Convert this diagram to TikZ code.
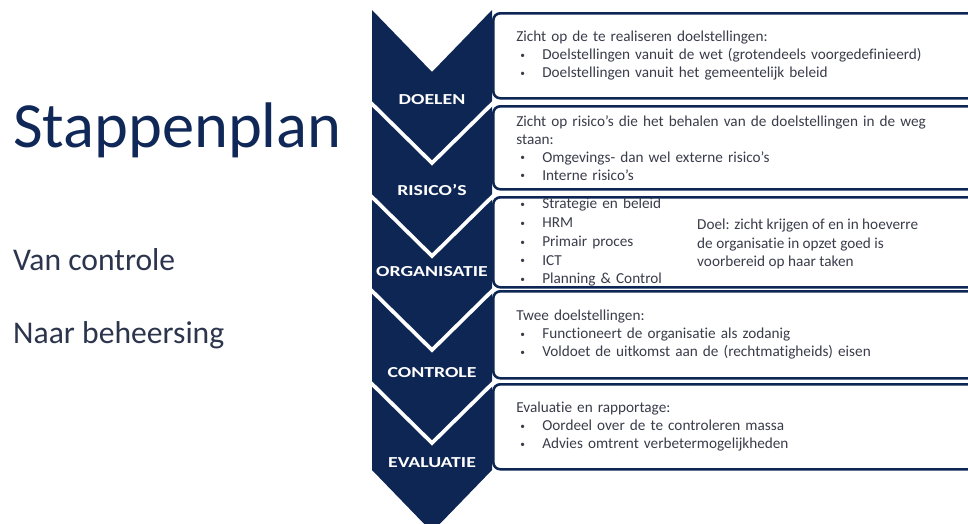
\documentclass[tikz,border=0pt]{standalone}
\usepackage{fontspec}
\setmainfont{Carlito}[Ligatures=CommonOff]
\newfontfamily\labelfont[FakeStretch=1.3]{Carlito}
\usepackage{xcolor}
\definecolor{plannavy}{RGB}{13,38,84}
\definecolor{plantitle}{RGB}{16,40,88}
\definecolor{plantext}{RGB}{58,60,74}
\usetikzlibrary{positioning}
\newlength{\pxu}\setlength{\pxu}{0.03cm}
\newcommand{\bul}[1]{\hspace*{4\pxu}\makebox[22\pxu][l]{\raisebox{1pt}{\fontsize{8}{8}\selectfont\textbullet}}#1}

\begin{document}
\begin{tikzpicture}[x=0.03cm, y=-0.03cm,
  stepbox/.style={draw=plannavy, line width=2.2pt, fill=white, rounded corners=6pt,
    anchor=north west, minimum width=500\pxu, text width=454\pxu, inner xsep=23\pxu,
    inner ysep=0pt, align=left, text=plantext, font=\fontsize{13}{15.4}\selectfont},
  steplabel/.style={text=white, font=\labelfont\bfseries\fontsize{13}{14}\selectfont, inner sep=0pt},
  sepline/.style={draw=white, line width=3.2pt},
  sidetext/.style={anchor=base west, inner sep=0pt, text=plantitle}]

\clip (0,0) rectangle (968,523);

% title and subtitles
\node[sidetext, font=\fontsize{55}{55}\selectfont] (title) at (13,147) {Stappenplan};
\node[sidetext, text=plantext!70!plannavy, font=\fontsize{27}{27}\selectfont] (van) at (13,270) {Van controle};
\node[sidetext, text=plantext!70!plannavy, font=\fontsize{27}{27}\selectfont] (naar) at (13,343) {Naar beheersing};

% chevron column
\fill[plannavy] (372,10) -- (432,72) -- (492,10) -- (492,470) -- (432,532) -- (372,470) -- cycle;
\foreach \y in {100,193,287,380}
  \draw[sepline] (368,\y) -- (432,\y+63) -- (496,\y);

\foreach \lbl/\y [count=\i] in {DOELEN/100, RISICO’S/190, ORGANISATIE/272, CONTROLE/373, EVALUATIE/463}
  \node[steplabel] (s\i) at (432,\y) {\lbl};

% text boxes
\node[stepbox, minimum height=85\pxu] (doelen) at (492,12) {%
  Zicht op de te realiseren doelstellingen:\\
  \bul{Doelstellingen vanuit de wet (grotendeels voorgedefinieerd)}\\
  \bul{Doelstellingen vanuit het gemeentelijk beleid}};

\node[stepbox, minimum height=83\pxu] (risicos) at (492,105) {%
  Zicht op risico’s die het behalen van de doelstellingen in de weg\\
  staan:\\
  \bul{Omgevings- dan wel externe risico’s}\\
  \bul{Interne risico’s}};

\node[stepbox, minimum height=90\pxu, font=\fontsize{13}{16}\selectfont] (organisatie) at (492,196) {%
  \bul{Strategie en beleid}\\
  \bul{HRM}\\
  \bul{Primair proces}\\
  \bul{ICT}\\
  \bul{Planning \& Control}};
\node[anchor=west, align=left, inner sep=0pt, text=plantext,
  font=\fontsize{13}{15.6}\selectfont] (doel) at (697,244) {%
  Doel: zicht krijgen of en in hoeverre\\
  de organisatie in opzet goed is\\
  voorbereid op haar taken};

\node[stepbox, minimum height=87\pxu] (controle) at (492,290) {%
  Twee doelstellingen:\\
  \bul{Functioneert de organisatie als zodanig}\\
  \bul{Voldoet de uitkomst aan de (rechtmatigheids) eisen}};

\node[stepbox, minimum height=85\pxu] (evaluatie) at (492,383) {%
  Evaluatie en rapportage:\\
  \bul{Oordeel over de te controleren massa}\\
  \bul{Advies omtrent verbetermogelijkheden}};

\end{tikzpicture}
\end{document}
